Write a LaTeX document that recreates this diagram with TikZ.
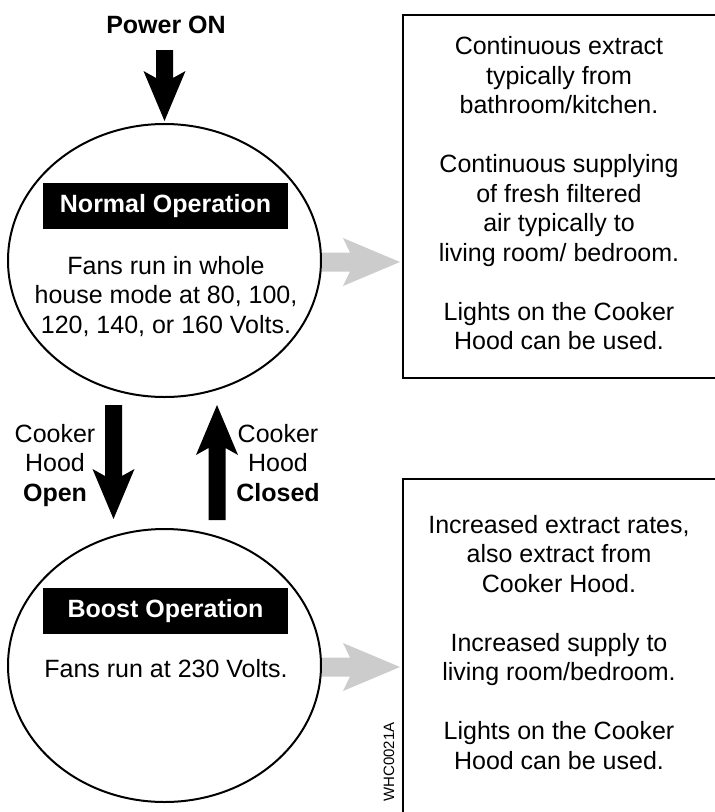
\documentclass[tikz,border=0pt]{standalone}
\usepackage{fontspec}
\setmainfont{Liberation Sans}
\usetikzlibrary{shapes.geometric,calc}
\definecolor{arrowgray}{HTML}{CCCCCC}
% black vertical block arrow: #1 tail, #2 tip
\newcommand\vfat[2]{\fill[black] let \p1=(#1), \p2=(#2), \n1={sign(\y2-\y1)} in
 ({\x1-8.5pt},{\y1}) -- ({\x1-8.5pt},{\y2-\n1*43pt}) -- ({\x1-21pt},{\y2-\n1*50pt}) -- ({\x1},{\y2})
 -- ({\x1+21pt},{\y2-\n1*50pt}) -- ({\x1+8.5pt},{\y2-\n1*43pt}) -- ({\x1+8.5pt},{\y1}) -- cycle;}
% grey horizontal block arrow: #1 tail, #2 tip
\newcommand\hfat[2]{\fill[arrowgray] let \p1=(#1), \p2=(#2), \n1={sign(\x2-\x1)} in
 ({\x1},{\y1+9.5pt}) -- ({\x2-\n1*50pt},{\y1+9.5pt}) -- ({\x2-\n1*57pt},{\y1+24pt}) -- ({\x2},{\y1})
 -- ({\x2-\n1*57pt},{\y1-24pt}) -- ({\x2-\n1*50pt},{\y1-9.5pt}) -- ({\x1},{\y1-9.5pt}) -- cycle;}
\begin{document}
\begin{tikzpicture}[x=1pt,y=-1pt,
  every node/.style={inner sep=0pt, outer sep=0pt},
  txt/.style={font=\fontsize{25}{29.5}\selectfont, align=center},
  state/.style={ellipse, draw, line width=2pt, minimum width=313pt, minimum height=273pt},
  titlebar/.style={fill=black, text=white, font=\fontsize{25}{29.5}\selectfont\bfseries,
    minimum width=245pt, minimum height=46pt, text height=18pt, text depth=5pt},
  boxline/.style={line width=2.6pt}]
\useasboundingbox (0,0) rectangle (715,812);

% right-hand description boxes
\node[txt, minimum width=312pt, minimum height=363pt] (box1) at (559,196.5)
  {\strut Continuous extract\\typically from\\bathroom/kitchen.\\[29.5pt]Continuous supplying\\of fresh filtered\\air typically to\\living room/ bedroom.\\[29.5pt]Lights on the Cooker\\Hood can be used.\strut};
\draw[boxline] (box1.north east) -- (box1.north west) -- (box1.south west) -- (box1.south east);

\node[txt, minimum width=312pt, minimum height=333pt] (box2) at (559,645.5)
  {\strut Increased extract rates,\\also extract from\\Cooker Hood.\\[29.5pt]Increased supply to\\living room/bedroom.\\[29.5pt]Lights on the Cooker\\Hood can be used.\strut};
\draw[boxline] (box2.north east) -- (box2.north west) -- (box2.south west);

% state ellipses
\node[state] (normal) at (164.5,260.5) {};
\node[state] (boost) at (164.5,665.5) {};

% grey arrows
\hfat{$(normal.east)+(1,1.5)$}{$(box1.west |- normal.east)+(-3,1.5)$}
\hfat{$(boost.east)+(1,1.5)$}{$(box2.west |- boost.east)+(-3,1.5)$}

% titles and texts
\node[titlebar] (normtitle) at (165.5,206) {Normal Operation};
\node[titlebar] (boosttitle) at (165.5,610.5) {Boost Operation};
\node[txt, anchor=north] (normtext) at (166,253.35)
  {\strut Fans run in whole\\house mode at 80, 100,\\120, 140, or 160 Volts.};
\node[txt, anchor=north] (boosttext) at (166,656.35) {\strut Fans run at 230 Volts.};

\node[txt, anchor=base] (power) at (166,33) {\bfseries Power ON};

% black arrows
\vfat{$(normal.north)+(0,-74)$}{$(normal.north)+(0,-3)$}
\vfat{$(normal.south)+(-51,8)$}{$(boost.north)+(-51,-10)$}
\vfat{$(boost.north)+(52.5,-9)$}{$(normal.south)+(52.5,8)$}

\node[txt, anchor=north] (openlbl) at (55,421.35) {\strut Cooker\\Hood\\\textbf{Open}};
\node[txt, anchor=north] (closedlbl) at (278,421.35) {\strut Cooker\\Hood\\\textbf{Closed}};

\node[font=\fontsize{15}{18}\selectfont, rotate=90] (code) at (389,762) {WHC0021A};
\end{tikzpicture}
\end{document}
